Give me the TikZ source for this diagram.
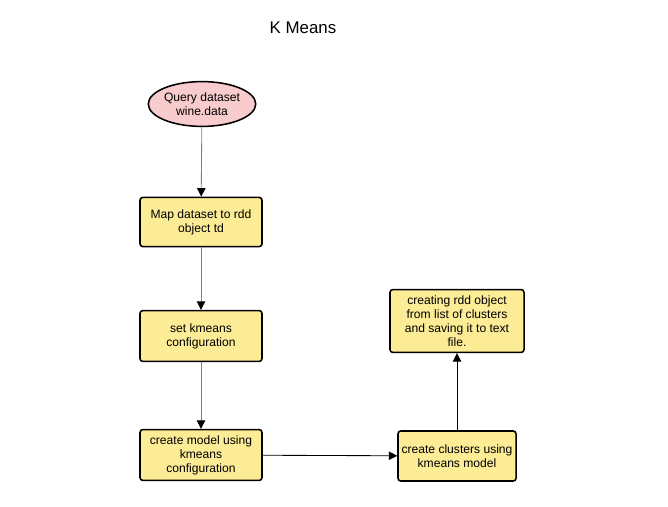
\documentclass[tikz,border=0pt]{standalone}
\usepackage{fontspec}
\setmainfont{Liberation Sans}
\usetikzlibrary{arrows.meta,shapes.geometric}
\definecolor{boxfill}{RGB}{252,236,150}
\definecolor{querypink}{RGB}{248,204,204}
\tikzset{
  paso/.style={draw=black, line width=1.1pt, fill=boxfill, rounded corners=2pt,
    align=center, font=\fontsize{8.6}{10}\selectfont, inner sep=1pt},
  flecha/.style={line width=0.6pt, -{Triangle[length=6pt,width=6pt,color=black]}},
}
\begin{document}
\begin{tikzpicture}[x=0.025cm, y=-0.025cm]
  \useasboundingbox (0,0) rectangle (668,506);
  % Titulo
  \node (titulo) at (303,28) {\fontsize{12}{14}\selectfont K Means};
  % Nodos
  \node[ellipse, draw=black, line width=1.1pt, fill=querypink, align=center,
        font=\fontsize{8.6}{10}\selectfont, minimum width=2.5cm, minimum height=1.12cm,
        inner sep=0pt] (query) at (202,104) {Query dataset\\wine.data};
  \node[paso, minimum width=3.05cm, minimum height=1.23cm] (mapa) at (201,222)
    {Map dataset to rdd\\object td};
  \node[paso, minimum width=3.05cm, minimum height=1.27cm] (config) at (201,336)
    {set kmeans\\configuration};
  \node[paso, minimum width=3.05cm, minimum height=1.27cm] (modelo) at (201,455)
    {create model using\\kmeans\\configuration};
  \node[paso, minimum width=2.95cm, minimum height=1.25cm] (clusters) at (457,456)
    {create clusters using\\kmeans model};
  \node[paso, minimum width=3.35cm, minimum height=1.57cm] (salida) at (457,321)
    {creating rdd object\\from list of clusters\\and saving it to text\\file.};
  % Conectores
  \draw[flecha, gray] (query) -- (mapa);
  \draw[flecha, gray] (mapa) -- (config);
  \draw[flecha, gray] (config) -- (modelo);
  \draw[flecha] (modelo) -- (clusters);
  \draw[flecha] (clusters) -- (salida);
\end{tikzpicture}
\end{document}
